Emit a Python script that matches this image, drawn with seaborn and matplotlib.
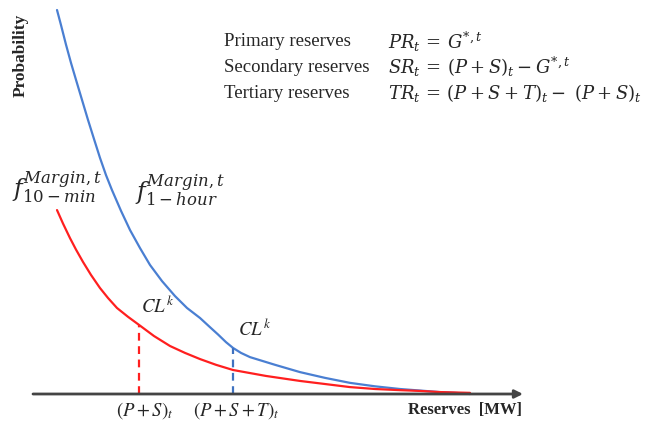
import numpy as np
import pandas as pd
import matplotlib
matplotlib.use("Agg")
import matplotlib.pyplot as plt
import seaborn as sns

# Probability curves of the reserve margin (reserves in arbitrary MW units, probability normalised)
reserves_1h = [4.90, 5.71, 6.73, 7.76, 8.78, 10.00, 11.22, 12.45, 13.67, 14.90, 16.12,
               17.96, 19.80, 21.84, 23.88, 26.33, 28.98, 31.43, 34.08, 36.12, 37.76,
               39.39, 40.82, 42.45, 44.29, 49.39, 54.49, 59.59, 64.69, 69.80, 74.90,
               78.98, 83.06, 86.12, 89.18]
prob_1h = [1.000, 0.961, 0.910, 0.862, 0.818, 0.766, 0.714, 0.664, 0.615, 0.570, 0.531,
           0.477, 0.427, 0.380, 0.336, 0.294, 0.255, 0.224, 0.198, 0.174, 0.155,
           0.135, 0.120, 0.107, 0.096, 0.076, 0.057, 0.042, 0.029, 0.020, 0.013,
           0.009, 0.005, 0.003, 0.000]

reserves_10m = [4.90, 6.12, 7.55, 8.78, 10.20, 11.84, 13.67, 15.31, 17.14, 19.39, 21.63,
                24.69, 27.96, 31.02, 34.08, 37.35, 40.82, 47.55, 54.49, 59.59, 64.69,
                69.80, 74.90, 78.98, 83.06, 89.18]
prob_10m = [0.479, 0.444, 0.406, 0.376, 0.344, 0.310, 0.276, 0.250, 0.224, 0.201, 0.180,
            0.151, 0.125, 0.107, 0.091, 0.076, 0.0625, 0.047, 0.034, 0.026, 0.018,
            0.013, 0.010, 0.008, 0.005, 0.003]

# Reserve levels at the confidence level CL^k
ps_level = 21.63    # (P+S)_t on the 10-min curve
pst_level = 40.82   # (P+S+T)_t on the 1-hour curve

axis_end = 100.0

labels_names = ["Primary reserves", "Secondary reserves", "Tertiary reserves"]
labels_eqs = [r"$PR_t\,=\,G^{*,t}$",
              r"$SR_t\,=\,(P+S)_t-G^{*,t}$",
              r"$TR_t\,=\,(P+S+T)_t-\ (P+S)_t$"]

sns.set_style("white")
plt.rcParams["font.family"] = ["Liberation Serif", "DejaVu Serif"]
plt.rcParams["mathtext.fontset"] = "stix"

W, H = 653, 421
fig = plt.figure(figsize=(W / 100, H / 100), dpi=100)
ax = fig.add_axes([0, 0, 1, 1])

# axis scaling: 4.9 px per reserve unit, 384 px per probability unit
x0_px, y0_px, sx, sy = 33, 394, 4.9, 384
ax.set_xlim(-x0_px / sx, (W - x0_px) / sx)
ax.set_ylim(-(H - y0_px) / sy, y0_px / sy)
ax.axis("off")

df1 = pd.DataFrame({"reserves": reserves_1h, "prob": prob_1h})
df2 = pd.DataFrame({"reserves": reserves_10m, "prob": prob_10m})
sns.lineplot(data=df1, x="reserves", y="prob", color="#4a7fd2", lw=1.6, ax=ax,
             estimator=None)
sns.lineplot(data=df2, x="reserves", y="prob", color="#ff1f1f", lw=1.6, ax=ax,
             estimator=None)

p_ps = np.interp(ps_level, reserves_10m, prob_10m)
p_pst = np.interp(pst_level, reserves_1h, prob_1h)
ax.plot([ps_level, ps_level], [0, p_ps], ls=(0, (3.5, 2.5)), color="#ff1f1f", lw=1.6)
ax.plot([pst_level, pst_level], [0, p_pst], ls=(0, (3.5, 2.5)), color="#3f72c0", lw=1.6)

# horizontal reserves axis with arrow
ax.annotate("", xy=(axis_end, 0), xytext=(0, 0),
            arrowprops=dict(arrowstyle="-|>", color="#444444", lw=2.0,
                            mutation_scale=12, shrinkA=0, shrinkB=0))


def fx(px):
    return px / W


def fy(py):
    return 1 - py / H


for name, eq, py in zip(labels_names, labels_eqs, [42, 67, 93]):
    fig.text(fx(224), fy(py), name, fontsize=13.5, va="center", ha="left")
    fig.text(fx(388), fy(py), eq, fontsize=13, va="center", ha="left",
             math_fontfamily="dejavuserif")

fig.text(fx(12), fy(187), r"$f^{Margin,t}_{10-min}$", fontsize=17,
         va="center", ha="left", math_fontfamily="dejavuserif")
fig.text(fx(135), fy(190), r"$f^{Margin,t}_{1-hour}$", fontsize=17,
         va="center", ha="left", math_fontfamily="dejavuserif")

ax.text(ps_level + 0.5, p_ps + 0.02, r"$CL^k$", fontsize=13.5, va="bottom", ha="left")
ax.text(pst_level + 1.0, p_pst + 0.02, r"$CL^k$", fontsize=13.5, va="bottom", ha="left")

ax.text(ps_level + 1.2, -0.042, r"$(P+S)_t$", fontsize=13.5, va="center", ha="center")
ax.text(pst_level + 0.6, -0.042, r"$(P+S+T)_t$", fontsize=13.5, va="center", ha="center")

fig.text(fx(522), fy(410), "Reserves  [MW]", fontsize=12, fontweight="bold",
         va="center", ha="right")
fig.text(fx(21), fy(55), "Probability", fontsize=12.5, fontweight="bold",
         va="center", ha="center", rotation=90)

fig.savefig("out.png", dpi=100, facecolor="white")
